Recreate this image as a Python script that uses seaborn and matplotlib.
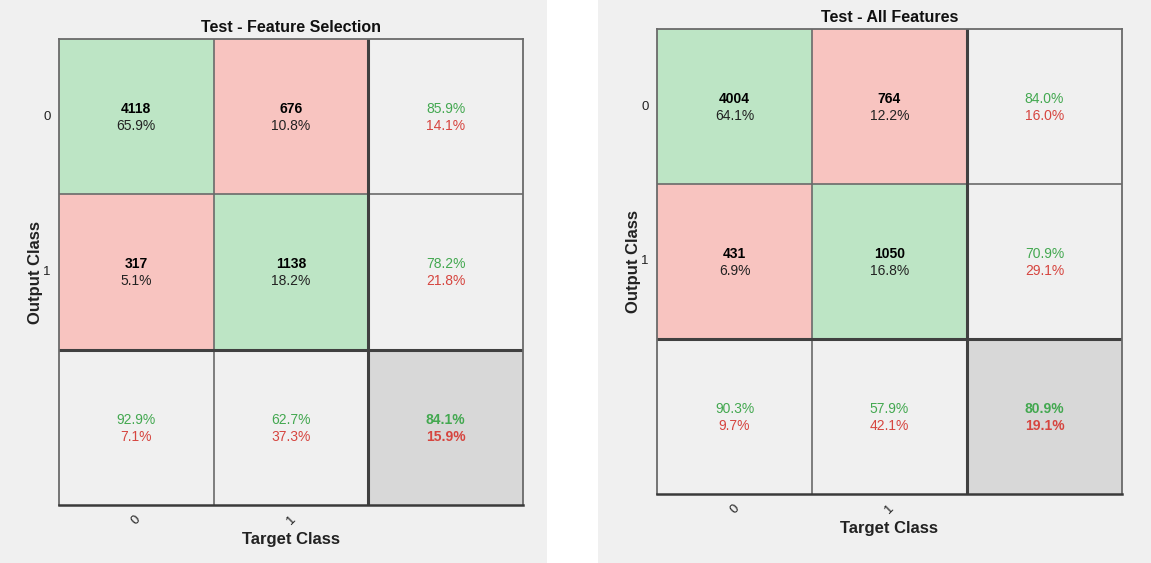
import numpy as np
import seaborn as sns
import matplotlib.pyplot as plt
from matplotlib.colors import ListedColormap
from matplotlib.patches import Rectangle

# confusion counts, rows = output class, cols = target class
fs_counts = np.array([[4118, 676],
                      [317, 1138]])
all_counts = np.array([[4004, 764],
                       [431, 1050]])
classes = ['0', '1']
titles = ['Test - Feature Selection', 'Test - All Features']

sns.set_style('white')
plt.rcParams['font.family'] = ['Liberation Sans', 'DejaVu Sans']

GREEN_TXT = '#43a850'
RED_TXT = '#d6453f'
cell_cmap = ListedColormap(['#bde5c5', '#f8c4c0', '#f0f0f0', '#d8d8d8'])
FS = 10


def draw_conf(ax, counts, title):
    n = counts.shape[0]
    total = counts.sum()
    # colour codes: diagonal green, off-diagonal red, summaries gray
    codes = np.full((n + 1, n + 1), 2)
    for i in range(n):
        for j in range(n):
            codes[i, j] = 0 if i == j else 1
    codes[n, n] = 3
    sns.heatmap(codes, ax=ax, cmap=cell_cmap, vmin=-0.5, vmax=3.5,
                cbar=False, linewidths=0, square=False)

    # cells
    for i in range(n):
        for j in range(n):
            ax.text(j + 0.5, i + 0.45, str(counts[i, j]), ha='center', va='center',
                    fontsize=FS, fontweight='bold', color='black')
            ax.text(j + 0.5, i + 0.56, f'{100 * counts[i, j] / total:.1f}%',
                    ha='center', va='center', fontsize=FS, color='#222222')
    # row summaries (precision)
    for i in range(n):
        p = 100 * counts[i, i] / counts[i].sum()
        ax.text(n + 0.5, i + 0.45, f'{p:.1f}%', ha='center', va='center', fontsize=FS, color=GREEN_TXT)
        ax.text(n + 0.5, i + 0.56, f'{100 - p:.1f}%', ha='center', va='center', fontsize=FS, color=RED_TXT)
    # column summaries (recall)
    for j in range(n):
        r = 100 * counts[j, j] / counts[:, j].sum()
        ax.text(j + 0.5, n + 0.45, f'{r:.1f}%', ha='center', va='center', fontsize=FS, color=GREEN_TXT)
        ax.text(j + 0.5, n + 0.56, f'{100 - r:.1f}%', ha='center', va='center', fontsize=FS, color=RED_TXT)
    acc = 100 * np.trace(counts) / total
    ax.text(n + 0.5, n + 0.45, f'{acc:.1f}%', ha='center', va='center', fontsize=FS,
            fontweight='bold', color=GREEN_TXT)
    ax.text(n + 0.5, n + 0.56, f'{100 - acc:.1f}%', ha='center', va='center', fontsize=FS,
            fontweight='bold', color=RED_TXT)

    # grid lines
    for k in range(1, n):
        ax.axhline(k, color='#6a6a6a', lw=1.2)
        ax.axvline(k, color='#6a6a6a', lw=1.2)
    ax.axhline(n, color='#404040', lw=2.2)
    ax.axvline(n, color='#404040', lw=2.2)
    for side, sp in ax.spines.items():
        sp.set_visible(True)
        sp.set_color('#6a6a6a')
        sp.set_linewidth(1.3)
    ax.spines['bottom'].set_color('#3a3a3a')
    ax.spines['bottom'].set_linewidth(1.8)

    ax.set_xticks(np.arange(n) + 0.5)
    ax.set_xticklabels(classes, rotation=45, ha='center', fontsize=9.5, color='#222222')
    ax.set_yticks(np.arange(n) + 0.5)
    ax.set_yticklabels(classes, rotation=0, fontsize=9.5, color='#222222')
    ax.tick_params(length=0, pad=6)
    ax.set_title(title, fontsize=11.5, fontweight='bold', pad=5, color='#111111')
    ax.set_xlabel('Target Class', fontsize=12, fontweight='bold', color='#222222')
    ax.set_ylabel('Output Class', fontsize=12, fontweight='bold', color='#222222')
    ax.xaxis.set_label_coords(0.5, -0.058)
    ax.yaxis.set_label_coords(-0.035, 0.5)


fig = plt.figure(figsize=(11.51, 5.63), dpi=100, facecolor='white')
fig.patches.append(Rectangle((0, 0), 547 / 1151, 1, transform=fig.transFigure,
                             facecolor='#f0f0f0', edgecolor='none', zorder=-10))
fig.patches.append(Rectangle((598 / 1151, 0), 1 - 598 / 1151, 1, transform=fig.transFigure,
                             facecolor='#f0f0f0', edgecolor='none', zorder=-10))

ax1 = fig.add_axes([59 / 1151, 1 - 505 / 563, 464 / 1151, 466 / 563])
ax2 = fig.add_axes([657 / 1151, 1 - 494 / 563, 465 / 1151, 465 / 563])
draw_conf(ax1, fs_counts, titles[0])
draw_conf(ax2, all_counts, titles[1])

fig.savefig('out.png', dpi=100, facecolor='white')
